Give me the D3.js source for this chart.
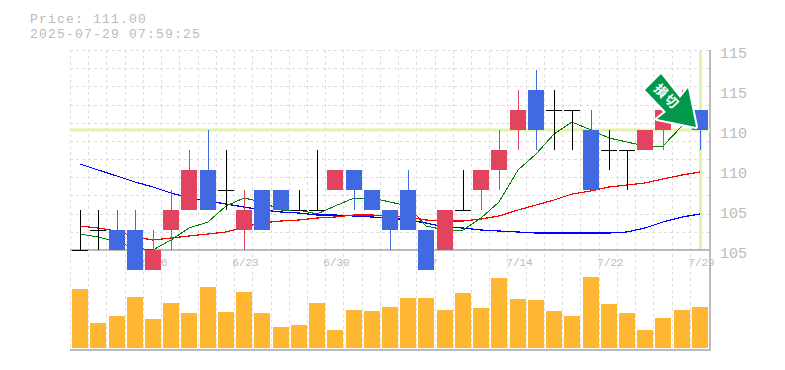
<!DOCTYPE html>
<html>
<head>
<meta charset="utf-8">
<script src="https://cdn.jsdelivr.net/npm/d3@7"></script>
<style>
  html, body { margin: 0; background: #fff; }
  svg { display: block; }
  text { font-family: "Liberation Mono", monospace; fill: #bbb; }
</style>
</head>
<body>
<svg id="chart" width="785" height="370"></svg>
<script>
// Header and axis text
const priceLabel = 'Price: 111.00';
const timeLabel = '2025-07-29 07:59:25';
const yTickValues = [115, 113, 111, 109, 107, 105];
const yTickLabels = ['115', '115', '110', '110', '105', '105'];
const dateLabels = [[4, '6/16'], [9, '6/23'], [14, '6/30'], [19, '7/7'], [24, '7/14'], [29, '7/22'], [34, '7/29']];

// Daily prices
const opens = [105, 106, 106, 106, 104, 106, 107, 109, 108, 106, 108, 108, 107, 107, 108, 109, 108, 107, 108, 106, 105, 107, 108, 109, 111, 113, 112, 112, 111, 110, 110, 110, 111, 112, 112];
const closes = [105, 106, 105, 104, 105, 107, 109, 107, 108, 107, 106, 107, 107, 107, 109, 108, 107, 106, 106, 104, 107, 107, 109, 110, 112, 111, 112, 112, 108, 110, 110, 111, 112, 112.5, 111];
const highs = [107, 107, 107, 107, 106, 108, 110, 111, 110, 108, 108, 108, 108, 110, 109, 109, 108, 107, 109, 106, 107, 109, 109, 111, 113, 114, 113, 112, 112, 111, 110, 111, 112, 113, 112];
const lows = [105, 105, 105, 104, 104, 105, 107, 107, 107, 105, 106, 107, 107, 107, 108, 107, 107, 105, 106, 104, 105, 107, 107, 108, 110, 110, 110, 110, 108, 109, 108, 110, 110, 112, 110];

// Moving averages
const maShort = [105.8, 105.65, 105.4, 105.1, 105, 105.5, 106.1, 106.4, 107.2, 107.6, 107.4, 107, 107, 106.8, 107.2, 107.6, 107.6, 107.4, 107.2, 106.2, 106, 106, 106.6, 107.4, 109, 109.8, 110.8, 111.4, 111, 110.6, 110.4, 110.2, 110.2, 111.2, 111.4];
const maMid = [106.2, 106.1, 105.95, 105.65, 105.5, 105.6, 105.7, 105.8, 105.9, 106.15, 106.35, 106.45, 106.5, 106.6, 106.65, 106.75, 106.75, 106.7, 106.65, 106.5, 106.45, 106.45, 106.55, 106.7, 107, 107.25, 107.5, 107.8, 107.95, 108.15, 108.25, 108.35, 108.55, 108.75, 108.9];
const maLong = [109.3, 109, 108.7, 108.4, 108.15, 107.85, 107.6, 107.45, 107.3, 107.15, 107, 106.9, 106.85, 106.75, 106.75, 106.7, 106.65, 106.6, 106.5, 106.35, 106.15, 106.1, 106, 105.95, 105.9, 105.85, 105.85, 105.85, 105.85, 105.85, 105.9, 106.1, 106.4, 106.65, 106.8];

// Bar heights of the volume panel
const volumes = [59, 25, 32, 51, 29, 45, 35, 61, 36, 56, 35, 21, 23, 45, 18, 38, 37, 41, 50, 50, 38, 55, 40, 70, 49, 48, 37, 32, 71, 44, 35, 18, 30, 38, 41];

const lastPrice = 111;
const lastIndex = closes.length - 1;

const svg = d3.select('#chart');
const plotLeft = 70, plotRight = 709, plotTop = 50, priceBottom = 250, volBottom = 348;

const x = d3.scaleBand().domain(d3.range(closes.length)).range([plotLeft + 1, plotRight]).paddingInner(0);
const cx = i => Math.round(x(i) + x.bandwidth() / 2);
const y = d3.scaleLinear().domain([105, 115]).range([priceBottom, plotTop]);
const yVol = d3.scaleLinear().domain([0, 100]).range([volBottom, volBottom - 100]);

// Smaller size with wider spacing keeps the two header lines apart
svg.append('text').attr('x', 30).attr('y', 23).attr('font-size', 13).attr('letter-spacing', 1.2).text(priceLabel);
svg.append('text').attr('x', 30).attr('y', 38).attr('font-size', 13).attr('letter-spacing', 1.2).text(timeLabel);

// Dotted background grid
const grid = svg.append('g').attr('stroke', '#ddd').attr('stroke-dasharray', '3,3').attr('shape-rendering', 'crispEdges');
grid.selectAll('line.v').data(d3.range(closes.length)).enter().append('line')
  .attr('x1', d => Math.round(x(d)) - 0.5).attr('x2', d => Math.round(x(d)) - 0.5)
  .attr('y1', plotTop).attr('y2', volBottom + 2);
grid.selectAll('line.h').data(d3.range(11)).enter().append('line')
  .attr('x1', plotLeft).attr('x2', plotRight)
  .attr('y1', d => Math.round(plotTop + d * 200 / 11) + 0.5).attr('y2', d => Math.round(plotTop + d * 200 / 11) + 0.5);

// Date labels sit under the candles
svg.selectAll('text.date').data(dateLabels).enter().append('text').attr('class', 'date')
  .attr('x', d => cx(d[0]) + 1.5).attr('y', 266).attr('text-anchor', 'middle').attr('font-size', 11)
  .text(d => d[1]);

// Frame
const frame = svg.append('g').attr('stroke', '#bbb').attr('stroke-width', 2).attr('shape-rendering', 'crispEdges');
frame.append('line').attr('x1', plotLeft).attr('x2', plotRight + 2).attr('y1', priceBottom).attr('y2', priceBottom);
frame.append('line').attr('x1', plotLeft).attr('x2', plotRight + 2).attr('y1', volBottom + 2).attr('y2', volBottom + 2);
frame.append('line').attr('x1', plotRight + 1).attr('x2', plotRight + 1).attr('y1', plotTop).attr('y2', volBottom + 3);

// Price axis on the right
svg.selectAll('text.ytick').data(yTickValues).enter().append('text').attr('class', 'ytick')
  .attr('x', 720).attr('y', d => y(d) + 8).attr('font-size', 15)
  .text((d, i) => yTickLabels[i]);

// Cross hair on the last price and last day
svg.append('line').attr('x1', plotLeft).attr('x2', plotRight + 1).attr('y1', y(lastPrice)).attr('y2', y(lastPrice))
  .attr('stroke', '#e3f2a9').attr('stroke-width', 3);
svg.append('line').attr('x1', cx(lastIndex) + 0.5).attr('x2', cx(lastIndex) + 0.5).attr('y1', plotTop + 1).attr('y2', priceBottom - 1)
  .attr('stroke', '#e3f2a9').attr('stroke-width', 3);

// Volume bars
svg.selectAll('rect.vol').data(volumes).enter().append('rect').attr('class', 'vol')
  .attr('x', (d, i) => cx(i) - 8).attr('width', 16)
  .attr('y', d => yVol(d)).attr('height', d => volBottom - yVol(d))
  .attr('fill', '#ffb733');

// Moving average lines run behind the candle bodies
const lineGen = d3.line().x((d, i) => cx(i)).y(d => y(d));
[[maLong, '#0000ff', 1.2], [maMid, '#ff0000', 1.2], [maShort, '#008000', 1]].forEach(([values, color, w]) => {
  svg.append('path').attr('d', lineGen(values)).attr('fill', 'none').attr('stroke', color).attr('stroke-width', w)
    .attr('shape-rendering', 'crispEdges');
});

// Candles: black for doji, red up, blue down
const candleColor = i => closes[i] > opens[i] ? '#e2445f' : closes[i] < opens[i] ? '#4169e1' : '#000';
const candles = svg.selectAll('g.candle').data(d3.range(closes.length)).enter().append('g').attr('class', 'candle')
  .attr('shape-rendering', 'crispEdges');
candles.append('line')
  .attr('x1', i => cx(i) + 0.5).attr('x2', i => cx(i) + 0.5)
  .attr('y1', i => y(highs[i])).attr('y2', i => y(lows[i]))
  .attr('stroke', candleColor);
candles.filter(i => closes[i] !== opens[i]).append('rect')
  .attr('x', i => cx(i) - 8).attr('width', 16)
  .attr('y', i => y(Math.max(opens[i], closes[i])))
  .attr('height', i => Math.abs(y(opens[i]) - y(closes[i])))
  .attr('fill', candleColor);
candles.filter(i => closes[i] === opens[i]).append('line')
  .attr('x1', i => cx(i) - 8).attr('x2', i => cx(i) + 8)
  .attr('y1', i => y(closes[i]) + 0.5).attr('y2', i => y(closes[i]) + 0.5)
  .attr('stroke', '#000');

// Sell marker on top of everything
const arrowShape = [[661, 74], [680, 98], [688, 88], [696, 127], [657, 119], [666, 112], [645, 90]];
svg.append('polygon').attr('points', arrowShape.join(' '))
  .attr('fill', '#00994c').attr('stroke', '#fff').attr('stroke-width', 4).attr('stroke-linejoin', 'round').attr('paint-order', 'stroke');
svg.append('text').attr('transform', 'translate(666,97.5) rotate(45)')
  .attr('text-anchor', 'middle').attr('dominant-baseline', 'middle').attr('letter-spacing', 2)
  .style('font-family', '"Noto Sans CJK JP"').style('font-weight', 700).style('fill', '#fff').attr('font-size', 13)
  .text('損切');
</script>
</body>
</html>
